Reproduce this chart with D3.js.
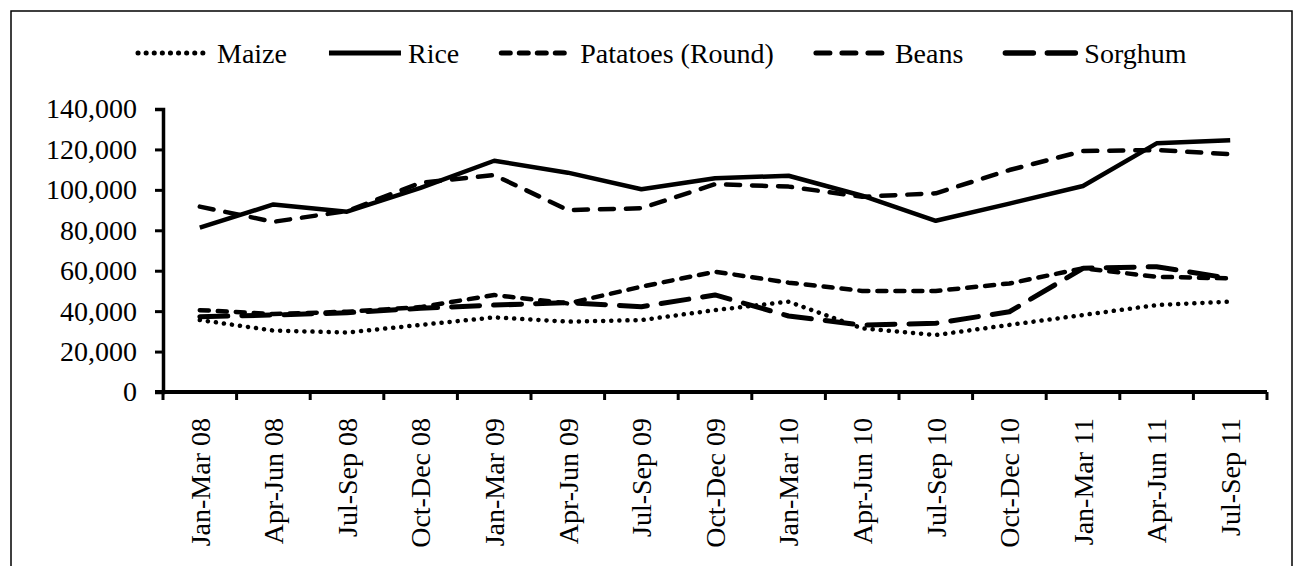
<!DOCTYPE html>
<meta charset="utf-8">
<script src="https://d3js.org/d3.v7.min.js"></script>
<style>
  body { margin: 0; background: #fff; }
  text { font-family: "Liberation Serif", "Times New Roman", serif; fill: #000; }
</style>
<body>
<div id="chart"></div>
<script>
// quarters on the x axis
var quarters = ["Jan-Mar 08", "Apr-Jun 08", "Jul-Sep 08", "Oct-Dec 08",
  "Jan-Mar 09", "Apr-Jun 09", "Jul-Sep 09", "Oct-Dec 09",
  "Jan-Mar 10", "Apr-Jun 10", "Jul-Sep 10", "Oct-Dec 10",
  "Jan-Mar 11", "Apr-Jun 11", "Jul-Sep 11"];

// values
var maize    = [35600, 30400, 29400, 33200, 36900, 34800, 35600, 40500, 44700, 31500, 28200, 33200, 38100, 43000, 44700];
var rice     = [81300, 92800, 89200, 101000, 114400, 108500, 100300, 105700, 107000, 97100, 84700, 93200, 101900, 123000, 124600];
var potatoes = [40500, 38600, 39700, 42000, 48000, 43800, 52100, 59500, 54100, 50000, 50000, 53700, 61200, 57000, 56200];
var beans    = [91700, 84200, 89500, 103500, 107300, 90000, 90900, 102800, 101600, 96600, 98300, 109800, 119200, 119700, 117600];
var sorghum  = [37200, 38100, 39200, 41400, 43000, 44200, 42200, 48000, 37600, 33100, 34000, 39700, 61200, 62000, 56200];

var seriesNames = ["Maize", "Rice", "Patatoes (Round)", "Beans", "Sorghum"];
var yTicks = [0, 20000, 40000, 60000, 80000, 100000, 120000, 140000];

var series = [
  {name: seriesNames[0], values: maize,    dash: "0.1,8",  width: 4.5},
  {name: seriesNames[1], values: rice,     dash: null,     width: 4.5},
  {name: seriesNames[2], values: potatoes, dash: "9,9",    width: 4.5},
  {name: seriesNames[3], values: beans,    dash: "14,12",  width: 4.5},
  {name: seriesNames[4], values: sorghum,  dash: "28,14",  width: 5}
];

var W = 1299, H = 566;
var svg = d3.select("#chart").append("svg")
  .attr("width", W).attr("height", H);

// outer frame
svg.append("rect")
  .attr("x", 11).attr("y", 11)
  .attr("width", 1281).attr("height", 600)
  .attr("fill", "none").attr("stroke", "#000").attr("stroke-width", 1.5);

var x = d3.scaleBand().domain(quarters).range([163, 1267]).padding(0);
var y = d3.scaleLinear().domain([0, 140000]).range([392, 109]);

// y axis
var yAxis = svg.append("g")
  .attr("transform", "translate(163,0)")
  .call(d3.axisLeft(y).tickValues(yTicks).tickSize(8).tickPadding(18)
    .tickFormat(d3.format(",")));
yAxis.select(".domain").attr("stroke-width", 3.5);
yAxis.selectAll(".tick line").attr("stroke-width", 3);
yAxis.selectAll("text").style("font-size", "28px")
  .style("font-family", "'Liberation Serif', serif");

// x axis: labels at centers, ticks at band edges
var xAxis = svg.append("g")
  .attr("transform", "translate(0,392)")
  .call(d3.axisBottom(x).tickSize(0).tickPadding(0));
xAxis.select(".domain").attr("stroke-width", 4).attr("d", "M" + (163 - 8) + ",0H" + 1267);
xAxis.selectAll("text")
  .style("font-size", "28px")
  .style("font-family", "'Liberation Serif', serif")
  .attr("text-anchor", "end")
  .attr("transform", "rotate(-90)")
  .attr("x", -26).attr("y", 0).attr("dy", "0.35em");

var edges = quarters.map(function(q) { return x(q); }).concat([x.range()[1]]);
xAxis.selectAll(".edge").data(edges).enter().append("line")
  .attr("x1", function(d) { return d; }).attr("x2", function(d) { return d; })
  .attr("y1", 0).attr("y2", 8)
  .attr("stroke", "#000").attr("stroke-width", 3);

// lines
var line = d3.line()
  .x(function(d, i) { return x(quarters[i]) + x.bandwidth() / 2; })
  .y(function(d) { return y(d); });

svg.append("g").selectAll("path")
  .data(series).enter().append("path")
  .attr("d", function(s) { return line(s.values); })
  .attr("fill", "none")
  .attr("stroke", "#000")
  .attr("stroke-width", function(s) { return s.width; })
  .attr("stroke-linecap", function(s) { return s.dash ? "round" : "butt"; })
  .attr("stroke-linejoin", "round")
  .attr("stroke-dasharray", function(s) { return s.dash; });

// legend
var legend = svg.append("g");
var lx = 138, ly = 53;
series.forEach(function(s) {
  legend.append("line")
    .attr("x1", lx).attr("x2", lx + 72)
    .attr("y1", ly).attr("y2", ly)
    .attr("stroke", "#000")
    .attr("stroke-width", s.width + 0.5)
    .attr("stroke-linecap", s.dash ? "round" : "butt")
    .attr("stroke-dasharray", s.dash);
  var t = legend.append("text")
    .attr("x", lx + 79).attr("y", ly).attr("dy", "0.35em")
    .style("font-size", "28px")
    .text(s.name);
  lx += 79 + t.node().getComputedTextLength() + 42;
});
</script>
</body>
